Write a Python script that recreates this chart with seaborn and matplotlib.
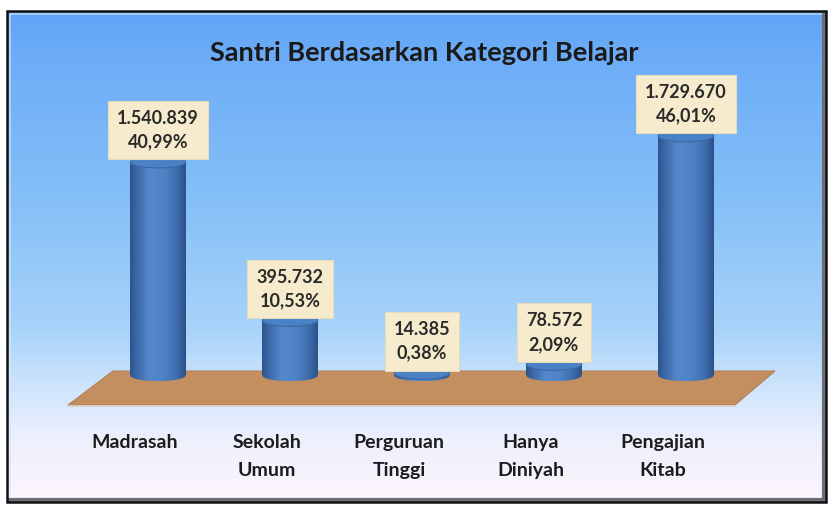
import matplotlib.pyplot as plt
import matplotlib.transforms as mtransforms
import numpy as np
import seaborn as sns
from matplotlib.colors import LinearSegmentedColormap
from matplotlib.patches import Ellipse, Polygon, Rectangle

# data
kategori = ['Madrasah', 'Sekolah\nUmum', 'Perguruan\nTinggi', 'Hanya\nDiniyah', 'Pengajian\nKitab']
jumlah = [1540839, 395732, 14385, 78572, 1729670]
persen = ['40,99%', '10,53%', '0,38%', '2,09%', '46,01%']
judul = 'Santri Berdasarkan Kategori Belajar'

sns.set_style('white')
plt.rcParams['font.family'] = ['Lato', 'DejaVu Sans']

W, H = 831, 512
fig = plt.figure(figsize=(W / 100, H / 100), dpi=100)

# background panel (pixel coordinates)
bg = fig.add_axes([0, 0, 1, 1], zorder=0)
bg.set_xlim(0, W)
bg.set_ylim(H, 0)
bg.axis('off')

stops_y = np.array([11, 60, 200, 330, 400, 440, 502])
stops_c = np.array([
    [0.38, 0.64, 0.96],
    [0.43, 0.68, 0.97],
    [0.52, 0.75, 0.97],
    [0.66, 0.83, 0.98],
    [0.84, 0.91, 0.99],
    [0.93, 0.94, 0.99],
    [0.99, 0.96, 0.99],
])
ys = np.linspace(11, 502, 300)
grad = np.stack([np.interp(ys, stops_y, stops_c[:, k]) for k in range(3)], axis=-1)
bg.imshow(grad[:, None, :], extent=(7, 826, 502, 11), aspect='auto', zorder=0)

# frame with a little bevel
bg.add_patch(Rectangle((10, 14), 813, 485, fill=False, ec='#d6e6fb', lw=1.2, alpha=0.7, zorder=1))
bg.plot([824, 824], [14, 501], color='#6d6d78', lw=3, zorder=2)
bg.plot([9, 825], [500, 500], color='#6d6d78', lw=3, zorder=2)
bg.add_patch(Rectangle((7, 11), 819, 491, fill=False, ec='#111111', lw=1.8, zorder=3))

# floor
bg.add_patch(Polygon([(113, 371), (775, 371), (735, 405), (68, 405)],
                     closed=True, fc='#c38f60', ec='#b58258', lw=0.8, zorder=1))
bg.plot([68, 735], [405.5, 405.5], color='#d9cfc9', lw=1.2, zorder=1)

bg.text(424, 53, judul, ha='center', va='center', fontsize=19.5,
        fontweight='bold', color='#1a1a1a')

# bar axes
base_px, top_px = 387, 57
left_px, right_px = 92, 752
ymax = 1540839 * (top_px - base_px) / (166 - base_px)
ax = fig.add_axes([left_px / W, (H - base_px) / H, (right_px - left_px) / W,
                   (base_px - top_px) / H], zorder=2)
ax.patch.set_alpha(0)

sns.barplot(x=kategori, y=jumlah, color='#4a80c4', width=0.42, ax=ax)
ax.set_xlim(-0.5, 4.5)
ax.set_ylim(0, ymax)
ax.set_yticks([])
ax.set_xlabel('')
ax.set_ylabel('')
for s in ax.spines.values():
    s.set_visible(False)

bar_cmap = LinearSegmentedColormap.from_list('cyl', [
    (0.0, '#2c5590'), (0.12, '#3d6aa8'), (0.35, '#5588cb'),
    (0.6, '#4f83c6'), (0.85, '#3e6cab'), (1.0, '#2b518a')])
hgrad = np.linspace(0, 1, 64)[None, :]
eh = ymax * 12 / (base_px - top_px)

for i, p in enumerate(list(ax.patches)):
    x0, w, h = p.get_x(), p.get_width(), p.get_height()
    cx = x0 + w / 2
    p.set_facecolor('none')
    p.set_edgecolor('none')
    im = ax.imshow(hgrad, cmap=bar_cmap, extent=(x0, x0 + w, 0, h), aspect='auto', zorder=3)
    im.set_clip_path(p)
    bot = Ellipse((cx, 0), w, eh, fc='none', ec='none', zorder=3)
    ax.add_patch(bot)
    im2 = ax.imshow(hgrad, cmap=bar_cmap, extent=(x0, x0 + w, -eh / 2, 0), aspect='auto', zorder=3)
    im2.set_clip_path(bot)
    ax.add_patch(Ellipse((cx, h), w, eh, fc='#4a80c6', ec='#3a67a3', lw=0.8, zorder=4))

    teks = f"{jumlah[i]:,}".replace(',', '.') + '\n' + persen[i]
    ax.annotate(teks, xy=(cx, h + eh / 2), xytext=(0, 6), textcoords='offset pixels',
                ha='center', va='bottom', fontsize=13, fontweight='bold',
                color='#2a2a2a', linespacing=1.45, zorder=6, annotation_clip=False,
                bbox=dict(boxstyle='square,pad=0.5', fc='#f6eccd', ec='#e6dbbd', lw=0.8))

ax.set_ylim(-eh, ymax)
ax.tick_params(axis='x', length=0, pad=34)
shift = mtransforms.ScaledTranslation(-0.23, 0, fig.dpi_scale_trans)
for lab in ax.get_xticklabels():
    lab.set_fontsize(14)
    lab.set_fontweight('bold')
    lab.set_color('#1c1c1c')
    lab.set_linespacing(1.75)
    lab.set_transform(lab.get_transform() + shift)

fig.savefig('out.png', dpi=100)
